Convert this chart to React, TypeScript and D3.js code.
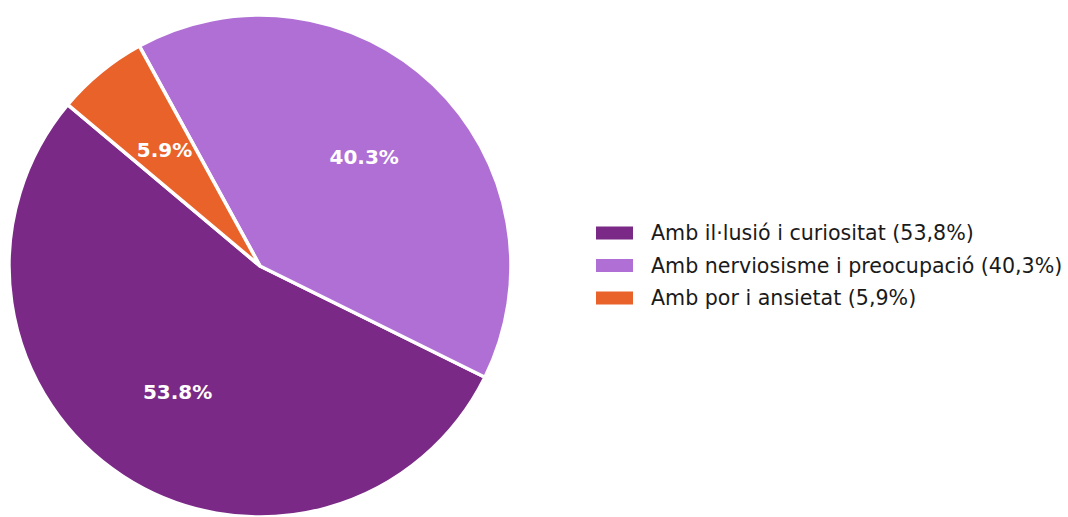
import React from 'react';
import * as d3 from 'd3';

const labels = [
  'Amb il·lusió i curiositat (53,8%)',
  'Amb nerviosisme i preocupació (40,3%)',
  'Amb por i ansietat (5,9%)',
];
const values = [53.8, 40.3, 5.9];
const colors = ['#7a2a86', '#b06fd5', '#e8622a'];

const width = 1068;
const height = 517;

export default function App() {
  const cx = 260;
  const cy = 266;
  const r = 251;

  // matplotlib startangle=140, counterclockwise -> d3 clockwise from 12 o'clock
  const start = ((90 - 140) * Math.PI) / 180;
  const pie = d3
    .pie<number>()
    .sort(null)
    .value(d => d)
    .startAngle(start)
    .endAngle(start - 2 * Math.PI);
  const arcs = pie(values);

  const arc = d3.arc<d3.PieArcDatum<number>>().innerRadius(0).outerRadius(r);
  const labelArc = d3.arc<d3.PieArcDatum<number>>().innerRadius(r * 0.6).outerRadius(r * 0.6);

  const legendX = 596;
  const legendY = 233;
  const rowH = 32.5;

  return (
    <svg
      width={width}
      height={height}
      viewBox={`0 0 ${width} ${height}`}
      style={{ position: 'absolute', left: 0, top: 0, background: '#fff', fontFamily: "'DejaVu Sans', sans-serif" }}
    >
      <g transform={`translate(${cx},${cy})`}>
        {arcs.map((a, i) => (
          <path key={i} d={arc(a) || ''} fill={colors[i]} stroke="#fff" strokeWidth={3.5} strokeLinejoin="round" />
        ))}
        {arcs.map((a, i) => {
          const [x, y] = labelArc.centroid(a);
          return (
            <text
              key={i}
              x={x}
              y={y}
              textAnchor="middle"
              dominantBaseline="central"
              fill="#fff"
              fontWeight="bold"
              fontSize={20}
            >
              {a.data.toFixed(1)}%
            </text>
          );
        })}
      </g>
      <g>
        {labels.map((l, i) => (
          <g key={i} transform={`translate(${legendX},${legendY + i * rowH})`}>
            <rect x={0} y={-6.5} width={37} height={13} fill={colors[i]} />
            <text x={55} y={0} dominantBaseline="central" fontSize={20.6} fill="#1a1a1a">
              {l}
            </text>
          </g>
        ))}
      </g>
    </svg>
  );
}
